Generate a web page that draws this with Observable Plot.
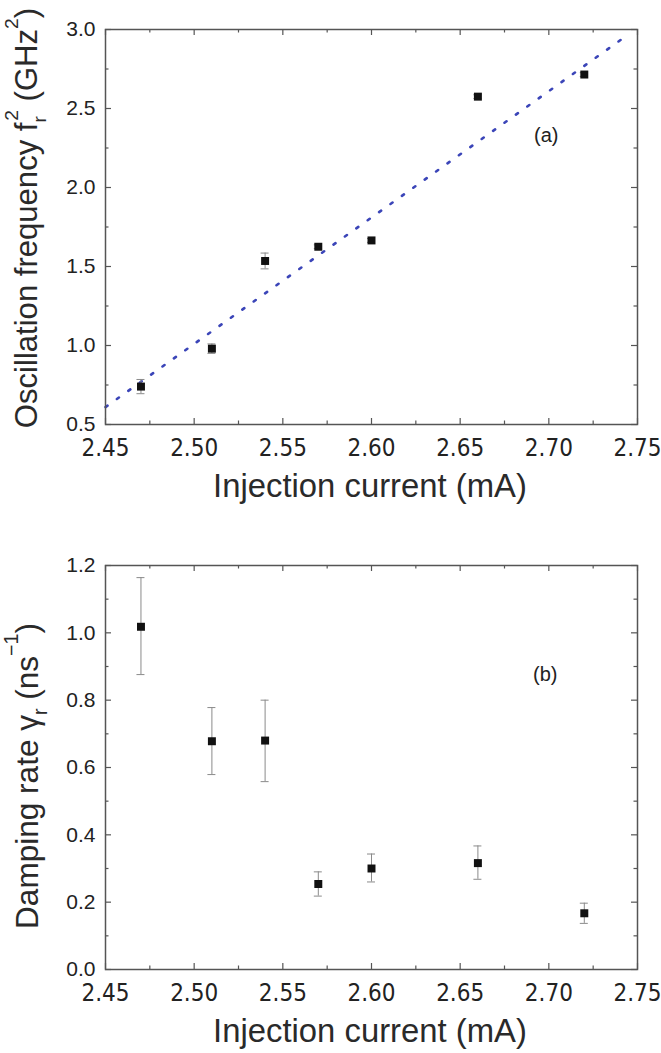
<!DOCTYPE html>
<html><head><meta charset="utf-8">
<script src="https://cdn.jsdelivr.net/npm/d3@7"></script>
<script src="https://cdn.jsdelivr.net/npm/@observablehq/plot@0.6"></script>
<style>
body{margin:0;background:#fff;}
#wrap{width:661px;}
#wrap svg{display:block;background:#fff;}
</style></head><body><div id="wrap"></div>
<script>
// ---- data ----
const current = [2.47, 2.51, 2.54, 2.57, 2.60, 2.66, 2.72];
const freqSq = [0.74, 0.98, 1.535, 1.625, 1.665, 2.575, 2.715];
const freqSqErr = [0.045, 0.03, 0.05, 0.012, 0.012, 0.012, 0.012];
const damping = [1.018, 0.678, 0.68, 0.254, 0.30, 0.316, 0.167];
const dampingLo = [0.876, 0.579, 0.558, 0.218, 0.26, 0.268, 0.137];
const dampingHi = [1.164, 0.778, 0.80, 0.29, 0.343, 0.367, 0.197];
const fitCurrent = [2.45, 2.745];
const fitFreqSq = [0.61, 2.97];
const xTicks = [2.45, 2.50, 2.55, 2.60, 2.65, 2.70, 2.75];
const xMinorTicks = [2.475, 2.525, 2.575, 2.625, 2.675, 2.725];
const yTicksA = [0.5, 1.0, 1.5, 2.0, 2.5, 3.0];
const yMinorTicksA = [0.75, 1.25, 1.75, 2.25, 2.75];
const yTicksB = [0.0, 0.2, 0.4, 0.6, 0.8, 1.0, 1.2];
const yMinorTicksB = [0.1, 0.3, 0.5, 0.7, 0.9, 1.1];

const ptsA = current.map((x, i) => ({x, y: freqSq[i], lo: freqSq[i] - freqSqErr[i], hi: freqSq[i] + freqSqErr[i]}));
const ptsB = current.map((x, i) => ({x, y: damping[i], lo: dampingLo[i], hi: dampingHi[i]}));
const fitA = fitCurrent.map((x, i) => ({x, y: fitFreqSq[i]}));

const W = 661;
const SANS = "'Liberation Sans', Arial, Helvetica, sans-serif";
const NARROW = "'Liberation Sans Narrow', 'Arial Narrow', 'DejaVu Sans Condensed', sans-serif";
const FRAME = "#555";

function frameTicks(H, m, yMaj, yMin) {
  const ph = H - m.top - m.bottom, pw = W - m.left - m.right;
  const maj = 6, mn = 3.5, s = {stroke: FRAME, strokeWidth: 1.2};
  return [
    Plot.ruleX(xTicks, {...s, insetTop: ph - maj}),
    Plot.ruleX(xTicks, {...s, insetBottom: ph - maj}),
    Plot.ruleX(xMinorTicks, {...s, insetTop: ph - mn}),
    Plot.ruleX(xMinorTicks, {...s, insetBottom: ph - mn}),
    Plot.ruleY(yMaj, {...s, insetRight: pw - maj}),
    Plot.ruleY(yMaj, {...s, insetLeft: pw - maj}),
    Plot.ruleY(yMin, {...s, insetRight: pw - mn}),
    Plot.ruleY(yMin, {...s, insetLeft: pw - mn})
  ];
}

function errorMarks(data, color) {
  return [
    Plot.ruleX(data, {x: "x", y1: "lo", y2: "hi", stroke: color, strokeWidth: 1}),
    Plot.ruleY(data, {y: "lo", x1: "x", x2: "x", insetLeft: -4, insetRight: -4, stroke: color, strokeWidth: 1}),
    Plot.ruleY(data, {y: "hi", x1: "x", x2: "x", insetLeft: -4, insetRight: -4, stroke: color, strokeWidth: 1})
  ];
}

function axes(yTicks, yFmt) {
  return [
    Plot.axisX({anchor: "bottom", ticks: xTicks, tickSize: 0, tickPadding: 14, tickFormat: d => d.toFixed(2),
      fontSize: 24, fontFamily: NARROW, fill: "#222", label: null}),
    Plot.axisY({anchor: "left", ticks: yTicks, tickSize: 0, tickPadding: 10, tickFormat: yFmt,
      fontSize: 21, fontFamily: SANS, fill: "#222", label: null})
  ];
}

// ---- panel (a) ----
const HA = 520, mA = {top: 29, right: 24, bottom: 96, left: 105};
const plotA = Plot.plot({
  width: W, height: HA, marginTop: mA.top, marginRight: mA.right, marginBottom: mA.bottom, marginLeft: mA.left,
  style: {background: "#fff", overflow: "visible"},
  x: {domain: [2.45, 2.75]},
  y: {domain: [0.5, 3.0]},
  marks: [
    Plot.line(fitA, {x: "x", y: "y", stroke: "#3b45b8", strokeWidth: 2.6, strokeDasharray: "2.5,11.5"}),
    ...errorMarks(ptsA, "#8a8a8a"),
    Plot.dot(ptsA, {x: "x", y: "y", symbol: "square", r: 4.5, fill: "#111", stroke: null}),
    Plot.text(["(a)"], {frameAnchor: "top-right", dx: -79, dy: 98, textAnchor: "end", fontSize: 20, fontFamily: SANS, fill: "#222"}),
    ...frameTicks(HA, mA, yTicksA, yMinorTicksA),
    Plot.frame({stroke: FRAME, strokeWidth: 1.5}),
    ...axes(yTicksA, d => d.toFixed(1))
  ]
});

// ---- panel (b) ----
const HB = 533, mB = {top: 45, right: 24, bottom: 84, left: 105};
const plotB = Plot.plot({
  width: W, height: HB, marginTop: mB.top, marginRight: mB.right, marginBottom: mB.bottom, marginLeft: mB.left,
  style: {background: "#fff", overflow: "visible"},
  x: {domain: [2.45, 2.75]},
  y: {domain: [0, 1.2]},
  marks: [
    ...errorMarks(ptsB, "#8a8a8a"),
    Plot.dot(ptsB, {x: "x", y: "y", symbol: "square", r: 4.5, fill: "#111", stroke: null}),
    Plot.text(["(b)"], {frameAnchor: "top-right", dx: -80, dy: 101, textAnchor: "end", fontSize: 20, fontFamily: SANS, fill: "#222"}),
    ...frameTicks(HB, mB, yTicksB, yMinorTicksB),
    Plot.frame({stroke: FRAME, strokeWidth: 1.5}),
    ...axes(yTicksB, d => d.toFixed(1))
  ]
});

const wrap = document.getElementById("wrap");
wrap.appendChild(plotA);
wrap.appendChild(plotB);

function richTitle(svg, {x, y, rotate, parts, fontFamily, fontSize, target}) {
  const t = d3.select(svg).append("text")
    .attr("transform", `translate(${x},${y})` + (rotate ? ` rotate(${rotate})` : ""))
    .attr("text-anchor", "middle").attr("font-family", fontFamily)
    .attr("font-size", fontSize).attr("fill", "#2a2a2a");
  let cur = 0;
  parts.forEach(p => {
    const ts = t.append("tspan").text(p.t);
    const size = p.size || 1;
    const shift = p.shift || 0;
    if (size !== 1) ts.attr("font-size", (size * 100) + "%");
    const dyBase = shift - cur;
    if (dyBase !== 0) ts.attr("dy", (dyBase / size) + "em");
    cur = shift;
    if (p.dx) ts.attr("dx", (p.dx / size) + "em");
  });
  if (target) {
    const len = t.node().getComputedTextLength();
    if (len > 0) t.attr("font-size", fontSize * target / len);
  }
  return t;
}

// y titles
richTitle(plotA, {x: 37, y: 218, rotate: -90, fontFamily: SANS, fontSize: 30, target: 425,
  parts: [
    {t: "Oscillation frequency f"},
    {t: "r", size: 0.62, shift: 0.28},
    {t: "2", size: 0.62, shift: -0.62, dx: -0.15},
    {t: " (GHz", shift: 0},
    {t: "2", size: 0.62, shift: -0.62},
    {t: ")", shift: 0}
  ]});
richTitle(plotB, {x: 38, y: 256, rotate: -90, fontFamily: SANS, fontSize: 30, target: 306,
  parts: [
    {t: "Damping rate \u03b3"},
    {t: "r", size: 0.62, shift: 0.28},
    {t: " (ns", shift: 0},
    {t: "\u22121", size: 0.62, shift: -0.62},
    {t: ")", shift: 0}
  ]});

// x titles
richTitle(plotA, {x: 370, y: 497, fontFamily: SANS, fontSize: 29, target: 314,
  parts: [{t: "Injection current (mA)"}]});
richTitle(plotB, {x: 370, y: 1042 - 520, fontFamily: SANS, fontSize: 29, target: 314,
  parts: [{t: "Injection current (mA)"}]});
</script>
</body></html>
